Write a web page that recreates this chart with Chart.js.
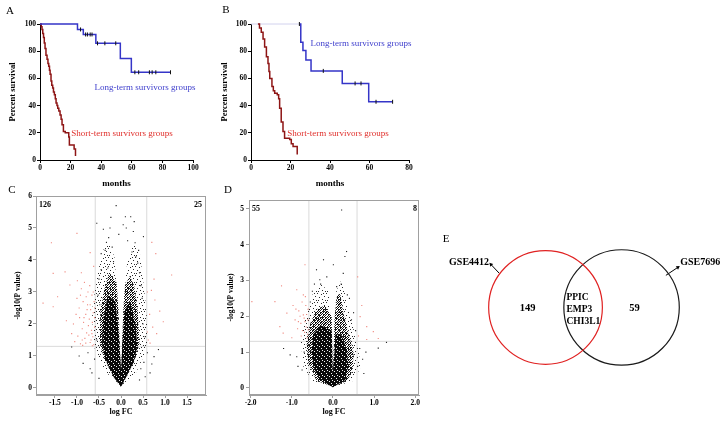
<!DOCTYPE html>
<html><head><meta charset="utf-8">
<script src="https://cdn.jsdelivr.net/npm/chart.js@4.4.1/dist/chart.umd.min.js"></script>
<style>
html,body{margin:0;padding:0;background:#fff;}
#wrap{position:relative;width:723px;height:424px;overflow:hidden;background:#fff;font-family:'Liberation Serif','Times New Roman',serif;}
.pane{position:absolute;}
.pane canvas{display:block;}
.lbl{position:absolute;white-space:nowrap;line-height:1;transform:translate(-50%,-50%);}
.lft{transform:translate(0,-50%);}
.rgt{transform:translate(-100%,-50%);}
.b{font-weight:bold;}
</style></head><body>
<div id="wrap">
  <div class="pane" style="left:0;top:0"><canvas id="cA" width="218" height="195"></canvas></div>
  <div class="pane" style="left:218px;top:0"><canvas id="cB" width="220" height="195"></canvas></div>
  <div class="pane" style="left:0;top:185px"><canvas id="cC" width="218" height="239"></canvas></div>
  <div class="pane" style="left:218px;top:185px"><canvas id="cD" width="222" height="239"></canvas></div>
  <div class="pane" style="left:440px;top:200px"><canvas id="cE" width="283" height="224"></canvas></div>

  <div class="lbl" style="left:10px;top:10px;font-size:11px">A</div>
  <div class="lbl" style="left:226px;top:9px;font-size:11px">B</div>
  <div class="lbl" style="left:12px;top:189px;font-size:11px">C</div>
  <div class="lbl" style="left:228px;top:189px;font-size:11px">D</div>
  <div class="lbl" style="left:446px;top:238px;font-size:11px">E</div>

  <div class="lbl" style="left:145px;top:87px;font-size:9px;color:#3d3dcc">Long-term survivors groups</div>
  <div class="lbl" style="left:122px;top:133px;font-size:9px;color:#e0302c">Short-term survivors groups</div>
  <div class="lbl" style="left:361px;top:43px;font-size:9px;color:#3d3dcc">Long-term survivors groups</div>
  <div class="lbl" style="left:338px;top:133px;font-size:9px;color:#e0302c">Short-term survivors groups</div>

  <div id="cDownLbl" class="lbl lft b" style="left:39px;top:205px;font-size:8px"></div>
  <div id="cUpLbl" class="lbl rgt b" style="left:202px;top:205px;font-size:8px"></div>
  <div id="dDownLbl" class="lbl lft b" style="left:252px;top:209px;font-size:8px"></div>
  <div id="dUpLbl" class="lbl rgt b" style="left:417px;top:209px;font-size:8px"></div>
</div>
<script>
// ================= DATA =================
// Kaplan-Meier, panel A (months, % survival)
const kmYTicks = [0, 20, 40, 60, 80, 100];
const kmXTicksA = [0, 20, 40, 60, 80, 100];
const kmXTicksB = [0, 20, 40, 60, 80];

const aLongT = [0, 24.5, 28.3, 36.5, 52.5, 59.7, 85.3];
const aLongS = [100, 96, 92.3, 85.8, 74.6, 64.5, 64.5];
const aLongCensT = [26.5, 29.8, 31.0, 32.8, 34.0, 37.6, 42.4, 49.5, 62.0, 64.5, 71.5, 73.3, 75.7, 85.3];
const aLongCensS = [96, 92.3, 92.3, 92.3, 92.3, 85.8, 85.8, 85.8, 64.5, 64.5, 64.5, 64.5, 64.5, 64.5];
const aShortT = [0, 0.8, 1.3, 1.8, 2.3, 2.8, 3.3, 3.9, 4.6, 5.2, 5.7, 6.2, 6.6, 7.2, 7.7, 8.3, 8.8, 9.4, 10.0, 10.5, 11.1, 11.6, 12.3, 13.1, 13.8, 14.4, 15.3, 16.5, 18.8, 19.2, 22.3, 23.2];
const aShortS = [100, 98, 96, 93, 90, 86, 82, 77, 74, 71, 69, 66, 63, 58, 55, 53, 50, 48, 45, 42, 40, 38, 36, 33, 30, 26, 21, 20, 17, 11, 8, 3];

// Kaplan-Meier, panel B
const bLongPreT = [0, 24.5];
const bLongPreS = [100, 100];
const bLongT = [24.5, 25.2, 26.3, 27.8, 30.4, 46.2, 59.6, 71.7];
const bLongS = [100, 86.6, 80.5, 73.6, 65.5, 56.3, 42.8, 42.8];
const bLongCensT = [24.5, 36.6, 52.7, 55.7, 63.3, 71.7];
const bLongCensS = [100, 65.5, 56.3, 56.3, 42.8, 42.8];
const bShortT = [3.5, 4.3, 5.2, 6.1, 6.9, 7.8, 8.6, 9.1, 9.5, 10.6, 11.3, 12.0, 13.3, 14.0, 14.5, 15.3, 16.2, 17.0, 19.6, 20.4, 21.3, 23.4];
const bShortS = [100, 97, 94, 89, 83, 76, 71, 65, 60, 54, 51, 49, 48, 45, 38, 28, 21, 16, 15, 12, 10, 4];

// Volcano plots: thresholds
const fcCut = 0.585;
const pCut = 1.3;
// Panel C
const cXTicks = [-1.5, -1.0, -0.5, 0, 0.5, 1.0, 1.5];
const cYTicks = [0, 1, 2, 3, 4, 5, 6];
const cDownCount = 126, cUpCount = 25;
const cHaloL = [[0,0.05],[-0.35,0.5],[-0.62,1.3],[-0.66,2.4],[-0.55,3.4],[-0.44,4.2],[-0.3,4.6],[-0.15,4.1],[-0.05,2.4],[-0.01,0.9],[0,0.05]];
const cHaloR = [[0,0.05],[0.01,0.9],[0.05,2.4],[0.15,4.1],[0.3,4.5],[0.43,4.2],[0.5,3.4],[0.58,2.4],[0.62,1.3],[0.35,0.5],[0,0.05]];
const cMidL = [[0,0.05],[-0.17,0.35],[-0.38,0.9],[-0.48,1.4],[-0.47,2.4],[-0.36,3.2],[-0.26,3.6],[-0.1,3.3],[-0.06,2.4],[-0.03,1.4],[-0.005,0.6],[0,0.05]];
const cMidR = [[0,0.05],[0.005,0.6],[0.03,1.4],[0.05,2.4],[0.09,3.2],[0.2,3.5],[0.3,3.2],[0.38,2.4],[0.42,1.4],[0.32,0.9],[0.13,0.35],[0,0.05]];
const cDenseL = [[0,0.03],[-0.17,0.35],[-0.36,0.9],[-0.43,1.4],[-0.4,2.2],[-0.3,2.9],[-0.13,2.7],[-0.045,1.6],[-0.012,0.8],[0.01,0.4],[0,0.03]];
const cDenseR = [[0,0.03],[-0.01,0.4],[0.012,0.8],[0.04,1.6],[0.08,2.4],[0.2,2.7],[0.33,2.0],[0.37,1.3],[0.29,0.8],[0.12,0.35],[0,0.03]];
const cSigDown = [[-1.05,1.45],[-0.98,1.62],[-0.92,1.38],[-0.88,1.85],[-0.85,2.05],[-0.82,1.55],[-0.8,2.3],[-0.78,1.72],[-0.76,2.6],[-0.74,1.95],[-0.72,2.15],[-0.7,1.42],[-0.69,2.45],[-0.67,1.8],[-0.66,2.9],[-0.65,2.05],[-0.64,1.6],[-0.63,2.35],[-0.62,1.35],[-0.61,2.7],[-0.6,1.9],[-0.6,2.2],[-0.95,2.5],[-1.0,2.8],[-0.9,3.1],[-0.86,2.7],[-0.83,3.3],[-0.75,3.0],[-0.71,3.2],[-0.94,2.2],[-1.08,2.0],[-1.12,1.7],[-0.99,3.35],[-0.8,1.4],[-0.68,1.5],[-0.77,2.45],[-0.88,1.5],[-0.92,2.9],[-0.63,3.0],[-0.7,2.6],[-1.02,2.3],[-0.84,2.2],[-0.79,2.85],[-0.66,1.7],[-0.73,1.65],[-1.58,4.54],[-1.27,3.63],[-1.16,3.22],[-1.77,2.65],[-1.54,2.54],[-1.44,2.85],[-1.24,2.1],[-1.0,4.83],[-0.7,4.23],[-1.54,3.58],[-0.9,3.6],[-0.62,3.8],[-0.65,1.32],[-0.87,1.33],[-0.6,2.5]];
const cSigUp = [[0.7,4.55],[0.79,4.2],[1.15,3.53],[0.77,2.75],[0.96,2.07],[0.81,1.7],[0.65,2.3],[0.72,1.9],[0.62,1.5],[0.69,3.05],[0.6,3.0],[0.88,2.4],[0.66,1.4],[0.6,1.75],[0.75,3.4]];
const cNonsig = [[-0.11,5.7],[-0.23,5.33],[0.22,5.35],[-0.55,5.15],[-0.4,4.96],[0.28,4.89],[0.32,4.54],[0.51,4.73],[-0.17,3.95],[0.34,4.1],[-0.36,4.3],[-0.45,4.2],[-0.28,4.7],[0.15,4.6],[0.05,5.1],[-0.3,3.75],[0.42,3.6],[0.45,3.2],[-0.5,3.4],[-0.48,2.6],[0.5,2.0],[0.55,1.6],[-0.55,1.5],[0.4,4.3],[-0.2,4.4],[0.25,4.25],[-0.33,4.55],[0.12,5.0],[-0.05,4.8],[0.38,3.9],[0.48,2.8],[-0.52,2.9],[-0.45,3.7],[-0.25,5.0],[0.3,5.2],[0.1,5.35],[-0.86,0.77],[-0.66,0.47],[0.66,0.47],[0.52,0.8],[0.75,0.98],[-1.12,1.28],[-0.6,0.9],[0.6,1.1],[-0.7,0.6],[0.45,0.6],[-0.75,1.1],[0.7,0.75],[-0.95,1.0],[0.85,1.2],[-0.5,0.3],[0.42,0.25],[0.55,0.35]];
// Panel D
const dXTicks = [-2, -1, 0, 1, 2];
const dYTicks = [0, 1, 2, 3, 4, 5];
const dDownCount = 55, dUpCount = 8;
const dHaloL = [[0,0.02],[-0.5,0.2],[-0.72,0.6],[-0.78,1.3],[-0.66,2.0],[-0.5,2.6],[-0.3,2.9],[-0.1,2.7],[-0.015,1.0],[0,0.02]];
const dHaloR = [[0,0.02],[0.015,1.0],[0.08,2.7],[0.2,3.0],[0.3,2.6],[0.42,2.0],[0.58,1.3],[0.68,0.6],[0.5,0.2],[0,0.02]];
const dMidL = [[0,0.03],[-0.4,0.2],[-0.6,0.7],[-0.64,1.2],[-0.55,1.8],[-0.4,2.2],[-0.2,2.3],[-0.03,2.0],[-0.005,0.5],[0,0.03]];
const dMidR = [[0,0.03],[0.005,0.5],[0.04,2.0],[0.1,2.6],[0.18,2.6],[0.25,2.1],[0.38,1.5],[0.5,1.0],[0.48,0.5],[0.35,0.2],[0,0.03]];
const dDenseL = [[0,0.02],[-0.32,0.22],[-0.48,0.6],[-0.52,1.06],[-0.48,1.5],[-0.3,1.75],[-0.03,1.6],[-0.01,0.6],[0.01,0.2],[0,0.02]];
const dDenseR = [[0,0.02],[-0.01,0.2],[0.01,0.6],[0.04,1.06],[0.06,1.5],[0.2,1.5],[0.34,1.06],[0.37,0.6],[0.3,0.22],[0,0.02]];
const dSigDown = [[-0.68,3.44],[-1.25,2.85],[-0.88,2.74],[-1.97,2.41],[-1.41,2.41],[-1.12,2.09],[-0.83,2.15],[-0.72,2.04],[-0.68,1.85],[-1.29,1.71],[-1.21,1.53],[-0.62,1.5],[-0.65,1.7],[-0.7,1.95],[-0.74,1.6],[-0.78,1.8],[-0.6,2.2],[-0.66,2.3],[-0.8,2.0],[-0.63,1.4],[-0.75,2.4],[-0.86,1.65],[-0.61,1.9],[-0.69,1.55],[-0.92,1.9],[-0.72,2.6],[-0.64,2.05],[-0.97,2.3],[-0.6,1.62],[-0.77,1.45],[-0.84,1.85],[-0.67,2.55],[-1.0,1.4],[-0.9,2.2]];
const dSigUp = [[0.66,1.99],[0.82,1.71],[0.98,1.57],[0.82,1.35],[0.7,2.3],[0.62,1.45],[1.1,1.38],[0.6,3.1]];
const dNonsig = [[0.21,4.97],[0.33,3.81],[0.29,3.67],[-0.23,3.58],[0.01,3.44],[-0.32,3.02],[-0.4,3.3],[0.09,2.83],[1.3,1.27],[1.1,1.11],[0.72,0.8],[-0.88,0.87],[-1.04,0.92],[-0.5,2.7],[-0.15,3.1],[0.4,2.5],[0.5,2.1],[-0.55,2.4],[0.25,3.2],[-0.3,2.9],[0.55,1.6],[-0.7,1.0],[0.6,0.6],[-0.75,0.5],[0.8,1.0],[-1.2,1.1],[0.2,2.9],[0.35,2.6],[-0.45,2.9],[0.45,1.9],[-0.6,1.2],[0.65,1.1],[-0.85,0.6],[0.75,0.4]];

// Venn (panel E)
const vennSets = ['GSE4412', 'GSE7696'];
const vennUnique = [149, 59];
const vennShared = ['PPIC', 'EMP3', 'CHI3L1'];
const vennCx = [-0.652, 0.652];
const vennCy = [0, 0];
const vennR = [0.975, 0.99];
const vennCountPos = [[-0.96, -0.02], [0.873, -0.02]];
const vennGenePos = [-0.293, 0.165];
const vennNamePos = [[-1.62, 0.772], [1.657, 0.772]];
const arrowA = [[-1.443, 0.588], [-1.588, 0.743]];
const arrowB = [[1.412, 0.555], [1.618, 0.693]];

// ================= HELPERS =================
const serif = "'Liberation Serif','Times New Roman',serif";
const pts = (t, s) => t.map((v, i) => ({x: v, y: s[i]}));
const xy = a => a.map(p => ({x: p[0], y: p[1]}));
const fixedTicks = arr => sc => { sc.ticks = arr.map(v => ({value: v})); };

function makePattern(size, dots, bg, fg) {
  const c = document.createElement('canvas');
  c.width = size; c.height = size;
  const g = c.getContext('2d');
  if (bg) { g.fillStyle = bg; g.fillRect(0, 0, size, size); }
  g.fillStyle = fg;
  dots.forEach(d => g.fillRect(d[0], d[1], 1, 1));
  return g.createPattern(c, 'repeat');
}
const patHalo = makePattern(9, [[0,0],[4,1],[7,3],[2,4],[5,6],[8,7],[1,7],[6,0]], null, '#2a2a2a');
const patMid = makePattern(5, [[0,0],[2,0],[4,1],[1,1],[3,2],[0,2],[2,3],[4,3],[1,4],[3,4],[0,4],[2,2]], null, '#111');
const patDense = makePattern(5, [[1,1],[3,3],[4,0]], '#0a0a0a', '#f4f4f4');

document.getElementById('cDownLbl').textContent = cDownCount;
document.getElementById('cUpLbl').textContent = cUpCount;
document.getElementById('dDownLbl').textContent = dDownCount;
document.getElementById('dUpLbl').textContent = dUpCount;

// ================= KAPLAN-MEIER =================
function kmChart(id, cfg) {
  return new Chart(document.getElementById(id), {
    type: 'scatter',
    data: {datasets: cfg.datasets},
    options: {
      responsive: false, animation: false, events: [],
      layout: {padding: cfg.padding},
      plugins: {legend: {display: false}, tooltip: {enabled: false}},
      scales: {
        x: {
          type: 'linear', min: cfg.xmin, max: cfg.xmax,
          afterBuildTicks: fixedTicks(cfg.xticks),
          afterFit: s => { s.height = cfg.xh; },
          grid: {display: true, drawOnChartArea: false, drawTicks: true, tickLength: 3, color: '#000', lineWidth: 1},
          border: {display: true, color: '#000', width: 1},
          ticks: {font: {family: serif, size: 7.5, weight: 'bold'}, color: '#000', padding: 1, maxRotation: 0, autoSkip: false},
          title: {display: true, text: 'months', font: {family: serif, size: 9, weight: 'bold'}, color: '#000', padding: {top: 0, bottom: 6.3}}
        },
        y: {
          type: 'linear', min: 0, max: 100,
          afterBuildTicks: fixedTicks(kmYTicks),
          afterFit: s => { s.width = cfg.yw; },
          grid: {display: true, drawOnChartArea: false, drawTicks: true, tickLength: 3, color: '#000', lineWidth: 1},
          border: {display: true, color: '#000', width: 1},
          ticks: {font: {family: serif, size: 7.5, weight: 'bold'}, color: '#000', padding: 1, autoSkip: false},
          title: {display: true, text: 'Percent survival', font: {family: serif, size: 8.5, weight: 'bold'}, color: '#000', padding: {top: cfg.ytp, bottom: 0}}
        }
      }
    }
  });
}
const stepLine = (data, color, w) => ({data, showLine: true, stepped: 'before', borderColor: color, borderWidth: w, pointRadius: 0, fill: false, clip: false});
const censor = (data, color) => ({data, showLine: false, pointStyle: 'line', rotation: 90, pointRadius: 2, borderColor: color, borderWidth: 1, clip: false});

kmChart('cA', {
  padding: {left: 0, top: 24, right: 25, bottom: 0}, yw: 40, xh: 35, ytp: 8,
  xmin: 0, xmax: 100, xticks: kmXTicksA,
  datasets: [
    censor(pts(aLongCensT, aLongCensS), '#111'),
    stepLine(pts(aLongT, aLongS), '#3535c8', 1.5),
    stepLine(pts(aShortT, aShortS), '#8e1515', 1.5)
  ]
});
kmChart('cB', {
  padding: {left: 0, top: 24, right: 29, bottom: 0}, yw: 33, xh: 35, ytp: 2,
  xmin: 0, xmax: 80, xticks: kmXTicksB,
  datasets: [
    censor(pts(bLongCensT, bLongCensS), '#111'),
    stepLine(pts(bLongT, bLongS), '#3535c8', 1.5),
    stepLine(pts(bShortT, bShortS), '#8e1515', 1.5),
    stepLine(pts(bLongPreT, bLongPreS), '#d2d2ee', 1)
  ]
});

// ================= VOLCANO =================
const framePlugin = {
  id: 'frame',
  afterDatasetsDraw(chart) {
    const a = chart.chartArea, ctx = chart.ctx;
    ctx.save();
    ctx.strokeStyle = '#a0a0a0'; ctx.lineWidth = 1;
    ctx.strokeRect(Math.round(a.left) + 0.5, Math.round(a.top) + 0.5, Math.round(a.right - a.left) - 1, Math.round(a.bottom - a.top) - 1);
    ctx.restore();
  }
};
function volcano(id, v) {
  const poly = (arr, pat, order) => ({data: xy(arr), showLine: true, fill: 'shape', backgroundColor: pat, borderWidth: 0, borderColor: 'rgba(0,0,0,0)', pointRadius: 0, order});
  const dots = (arr, color, order) => ({data: xy(arr), showLine: false, pointStyle: 'rect', pointRadius: 0.8, backgroundColor: color, borderWidth: 0, order});
  const thr = (arr) => ({data: xy(arr), showLine: true, borderColor: '#dadada', borderWidth: 1, pointRadius: 0, fill: false, order: 9});
  const datasets = [
    thr([[-fcCut, v.ymin], [-fcCut, v.ymax]]),
    thr([[fcCut, v.ymin], [fcCut, v.ymax]]),
    thr([[v.xmin, pCut], [v.xmax, pCut]]),
    poly(v.haloL, patHalo, 8), poly(v.haloR, patHalo, 8),
    poly(v.midL, patMid, 7), poly(v.midR, patMid, 7),
    poly(v.denseL, patDense, 6), poly(v.denseR, patDense, 6),
    dots(v.nonsig, '#222', 2),
    dots(v.sigDown, '#f08a80', 1),
    dots(v.sigUp, '#f08a80', 1)
  ];
  return new Chart(document.getElementById(id), {
    type: 'scatter',
    data: {datasets},
    plugins: [framePlugin],
    options: {
      responsive: false, animation: false, events: [],
      layout: {padding: v.padding},
      plugins: {legend: {display: false}, tooltip: {enabled: false}},
      scales: {
        x: {
          type: 'linear', min: v.xmin, max: v.xmax,
          afterBuildTicks: fixedTicks(v.xticks),
          afterFit: s => { s.height = 29; },
          grid: {display: true, drawOnChartArea: false, drawTicks: true, tickLength: 3, color: '#a0a0a0'},
          border: {display: true, color: '#a0a0a0', width: 1},
          ticks: {font: {family: serif, size: 7.5, weight: 'bold'}, color: '#000', padding: 1, maxRotation: 0, autoSkip: false, callback: val => Number(val).toFixed(1)},
          title: {display: true, text: 'log FC', font: {family: serif, size: 8, weight: 'bold'}, color: '#000', padding: {top: 0, bottom: 7.3}}
        },
        y: {
          type: 'linear', min: v.ymin, max: v.ymax,
          afterBuildTicks: fixedTicks(v.yticks),
          afterFit: s => { s.width = v.yw; },
          grid: {display: true, drawOnChartArea: false, drawTicks: true, tickLength: 3, color: '#a0a0a0'},
          border: {display: true, color: '#a0a0a0', width: 1},
          ticks: {font: {family: serif, size: 7.5, weight: 'bold'}, color: '#000', padding: v.ytpad, autoSkip: false},
          title: {display: true, text: '-log10(P value)', font: {family: serif, size: 7.5, weight: 'bold'}, color: '#000', padding: {top: v.ytp, bottom: 0}}
        }
      }
    }
  });
}
volcano('cC', {
  padding: {left: 0, top: 11, right: 12, bottom: 0}, yw: 36, ytp: 13.8, ytpad: 1,
  xmin: -1.93, xmax: 1.93, ymin: -0.22, ymax: 6, xticks: cXTicks, yticks: cYTicks,
  haloL: cHaloL, haloR: cHaloR, midL: cMidL, midR: cMidR, denseL: cDenseL, denseR: cDenseR,
  nonsig: cNonsig, sigDown: cSigDown, sigUp: cSigUp
});
volcano('cD', {
  padding: {left: 0, top: 15, right: 21, bottom: 0}, yw: 31, ytp: 8.5, ytpad: 2,
  xmin: -2.04, xmax: 2.09, ymin: -0.2, ymax: 5.25, xticks: dXTicks, yticks: dYTicks,
  haloL: dHaloL, haloR: dHaloR, midL: dMidL, midR: dMidR, denseL: dDenseL, denseR: dDenseR,
  nonsig: dNonsig, sigDown: dSigDown, sigUp: dSigUp
});

// ================= VENN =================
const vennText = {
  id: 'vennText',
  afterDatasetsDraw(chart) {
    const {ctx, scales: {x, y}} = chart;
    ctx.save();
    ctx.fillStyle = '#000';
    ctx.textBaseline = 'middle';
    ctx.font = `bold 10.5px ${serif}`;
    ctx.textAlign = 'center';
    vennUnique.forEach((n, i) => ctx.fillText(String(n), x.getPixelForValue(vennCountPos[i][0]), y.getPixelForValue(vennCountPos[i][1])));
    ctx.font = `bold 9.5px ${serif}`;
    ctx.textAlign = 'left';
    vennShared.forEach((g, i) => ctx.fillText(g, x.getPixelForValue(vennGenePos[0]), y.getPixelForValue(vennGenePos[1]) + i * 11.7));
    ctx.font = `bold 10px ${serif}`;
    ctx.textAlign = 'right';
    ctx.fillText(vennSets[0], x.getPixelForValue(vennNamePos[0][0]), y.getPixelForValue(vennNamePos[0][1]));
    ctx.textAlign = 'left';
    ctx.fillText(vennSets[1], x.getPixelForValue(vennNamePos[1][0]), y.getPixelForValue(vennNamePos[1][1]));
    ctx.restore();
  }
};
const pxPerUnit = ch => ch.scales.x.width / (ch.scales.x.max - ch.scales.x.min);
const circle = (i, color) => ({
  data: [{x: vennCx[i], y: vennCy[i]}], showLine: false, pointStyle: 'circle',
  pointRadius: c => vennR[i] * pxPerUnit(c.chart), backgroundColor: 'rgba(0,0,0,0)',
  borderColor: color, borderWidth: 1.2, clip: false
});
const arrow = (arr, rot) => ({
  data: xy(arr), showLine: true, borderColor: '#000', borderWidth: 1,
  pointStyle: 'triangle', pointRadius: [0, 2.3], rotation: rot,
  backgroundColor: '#000', pointBorderWidth: 0, clip: false
});
new Chart(document.getElementById('cE'), {
  type: 'scatter',
  data: {datasets: [
    circle(0, '#e02222'),
    circle(1, '#1a1a1a'),
    arrow(arrowA, -43),
    arrow(arrowB, 56)
  ]},
  plugins: [vennText],
  options: {
    responsive: false, animation: false, events: [],
    layout: {padding: 0},
    plugins: {legend: {display: false}, tooltip: {enabled: false}},
    scales: {
      x: {type: 'linear', min: -2.393, max: 2.323, display: false},
      y: {type: 'linear', min: -1.945, max: 1.788, display: false}
    }
  }
});
</script>
</body></html>
